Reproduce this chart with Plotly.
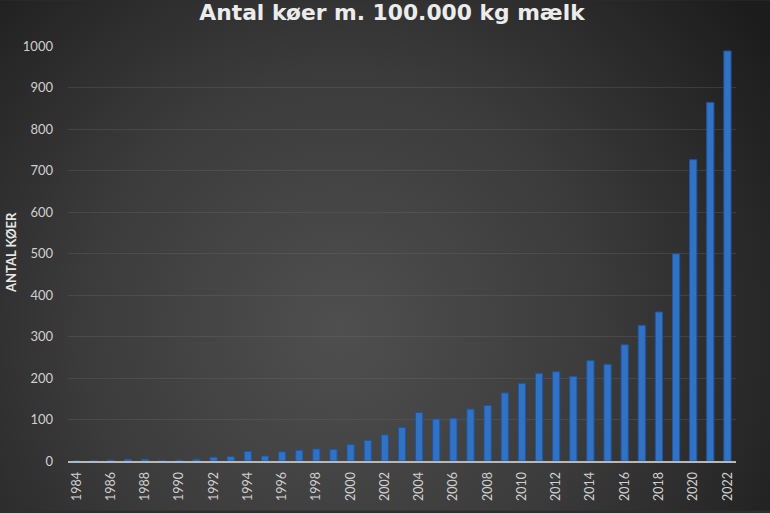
import base64
import plotly.graph_objects as go

years = list(range(1984, 2023))
cows = [0, 0, 2, 4, 4, 1, 2, 4, 9, 11,
        23, 12, 22, 26, 29, 28, 40, 50, 63, 81,
        117, 101, 103, 125, 134, 164, 187, 211, 215, 204,
        242, 233, 280, 327, 359, 499, 726, 864, 988]

title_text = "Antal køer m. 100.000 kg mælk"
y_title = "ANTAL KØER"

W, H = 770, 513
L, R, T, B = 68, 34, 46, 50
PW, PH = W - L - R, H - T - B

svg = f'''<svg xmlns="http://www.w3.org/2000/svg" width="{W}" height="{H}" viewBox="0 0 {W} {H}" preserveAspectRatio="none">
<defs><radialGradient id="g" gradientUnits="userSpaceOnUse" cx="340" cy="330" r="520">
<stop offset="0%" stop-color="#4f4f4f"/><stop offset="50%" stop-color="#3b3b3b"/><stop offset="100%" stop-color="#1c1c1c"/>
</radialGradient></defs><rect width="{W}" height="{H}" fill="url(#g)"/></svg>'''
bg = "data:image/svg+xml;base64," + base64.b64encode(svg.encode()).decode()

fig = go.Figure()
fig.add_trace(go.Bar(
    x=years, y=cows, width=0.42,
    marker=dict(color="#3172c4", line=dict(color="#1f56a0", width=1)),
    hoverinfo="x+y",
))

fig.update_layout(
    width=W, height=H,
    margin=dict(l=L, r=R, t=T, b=B),
    paper_bgcolor="#2e2e2e",
    plot_bgcolor="rgba(0,0,0,0)",
    showlegend=False,
    title=dict(text=f"<b>{title_text}</b>", x=392 / W, xanchor="center", y=1 - 12 / H, yanchor="middle",
               font=dict(family="DejaVu Sans", size=21.8, color="#ececec")),
    images=[dict(source=bg, xref="paper", yref="paper",
                 x=-L / PW, y=1 + T / PH, sizex=W / PW, sizey=H / PH,
                 xanchor="left", yanchor="top", layer="below", sizing="stretch")],
    font=dict(family="Lato", color="#d0d0d0"),
    annotations=[dict(text=f"<b>{y_title}</b>", textangle=-90, xref="paper", yref="paper",
                      x=0, y=(463 - 254) / PH, xanchor="center", yanchor="middle", xshift=-57, showarrow=False,
                      font=dict(family="Lato", size=13, color="#e6e6e6"))],
)

fig.update_xaxes(
    range=[1983.5, 2022.5], tickmode="linear", tick0=1984, dtick=2,
    tickangle=-90, tickfont=dict(size=12.5, color="#d0d0d0"),
    showgrid=False, zeroline=False, showline=True, linecolor="#b8b8b8", linewidth=2,
    ticks="", ticklabelstandoff=4,
)
fig.update_yaxes(
    range=[0, 1000], tickmode="linear", tick0=0, dtick=100,
    tickfont=dict(size=13, color="#d0d0d0"),
    showgrid=True, gridcolor="rgba(110,110,110,0.3)", gridwidth=1,
    zeroline=False, showline=False, ticks="", ticklabelstandoff=14,
)

fig.write_html("out.html")
